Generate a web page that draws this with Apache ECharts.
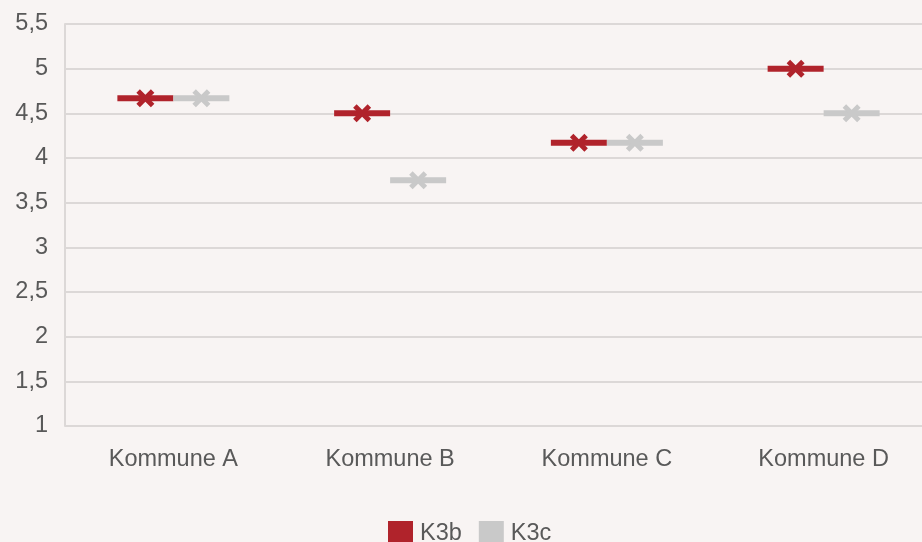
<!DOCTYPE html>
<html>
<head>
<meta charset="utf-8">
<script src="https://cdn.jsdelivr.net/npm/echarts@6/dist/echarts.min.js"></script>
<style>
html,body{margin:0;padding:0;background:#f8f4f3;overflow:hidden;width:922px;height:542px;}
#chart{width:932px;height:542px;}
</style>
</head>
<body>
<div id="chart"></div>
<script>
const categories = ['Kommune A', 'Kommune B', 'Kommune C', 'Kommune D'];
const seriesNames = ['K3b', 'K3c'];
const k3b = [4.67, 4.5, 4.17, 5.0];
const k3c = [4.67, 3.75, 4.17, 4.5];
const yTicks = [1, 1.5, 2, 2.5, 3, 3.5, 4, 4.5, 5, 5.5];

const colors = ['#b0232b', '#c9c9c9'];
const xPath = 'path://M0,3.5 L3.5,0 L9,5.5 L14.5,0 L18,3.5 L12.5,9 L18,14.5 L14.5,18 L9,12.5 L3.5,18 L0,14.5 L5.5,9 Z';
const textColor = '#595959';
const font = '"Liberation Sans", Arial, sans-serif';

function makeSeries(name, data, color, offset) {
  return [
    {
      name: name, type: 'scatter', data: data,
      symbol: 'rect', symbolSize: [56, 6], symbolOffset: [offset, 0],
      itemStyle: { color: color, opacity: 1 }, z: 3, silent: true
    },
    {
      name: name, type: 'scatter', data: data,
      symbol: xPath, symbolSize: 18, symbolOffset: [offset, 0],
      itemStyle: { color: color, opacity: 1 }, z: 4, silent: true
    }
  ];
}

const chart = echarts.init(document.getElementById('chart'));
chart.setOption({
  backgroundColor: '#f8f4f3',
  animation: false,
  textStyle: { fontFamily: font },
  grid: { left: 65, right: 0, top: 24, bottom: 116 },
  legend: {
    data: seriesNames.map(n => ({ name: n, icon: 'rect' })),
    left: 383, top: 516,
    itemWidth: 25, itemHeight: 25, itemGap: 17,
    textStyle: { color: textColor, fontSize: 23.5, fontFamily: font, padding: [3, 0, 0, 2] }
  },
  xAxis: {
    type: 'category', data: categories,
    axisLine: { show: false },
    axisTick: { show: false },
    axisLabel: { color: textColor, fontSize: 23.5, margin: 22, fontFamily: font }
  },
  yAxis: {
    type: 'value', min: 1, max: 5.5, interval: 0.5,
    axisLine: { show: true, lineStyle: { color: '#dcd8d7', width: 2 } },
    axisTick: { show: false },
    splitLine: { lineStyle: { color: '#dcd8d7', width: 2 } },
    axisLabel: {
      color: textColor, fontSize: 23.5, margin: 17, fontFamily: font,
      formatter: v => yTicks.includes(v) ? String(v).replace('.', ',') : ''
    }
  },
  series: [
    ...makeSeries(seriesNames[0], k3b, colors[0], -28),
    ...makeSeries(seriesNames[1], k3c, colors[1], 28)
  ]
});
</script>
</body>
</html>
